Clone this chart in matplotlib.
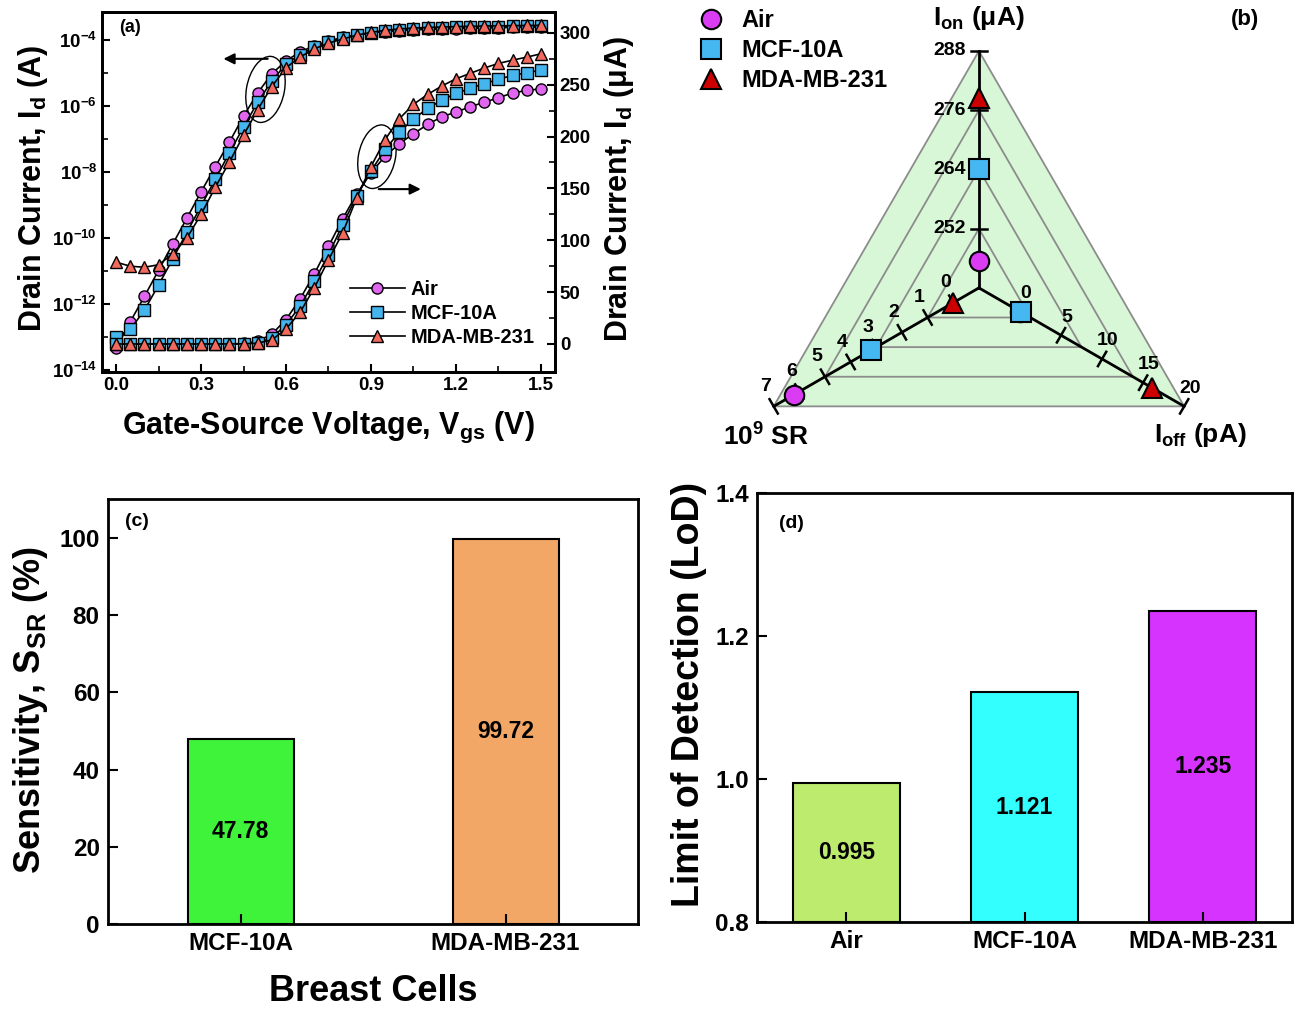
import matplotlib
matplotlib.use('Agg')
import matplotlib.pyplot as plt
import numpy as np
from matplotlib.patches import Ellipse, Polygon
from matplotlib.lines import Line2D
from matplotlib.ticker import FixedLocator, NullFormatter, FormatStrFormatter

plt.rcParams['font.family'] = ['Liberation Sans', 'DejaVu Sans']
plt.rcParams['font.weight'] = 'bold'
plt.rcParams['mathtext.fontset'] = 'custom'
plt.rcParams['mathtext.rm'] = 'Liberation Sans:bold'
plt.rcParams['mathtext.it'] = 'Liberation Sans:bold'
plt.rcParams['mathtext.bf'] = 'Liberation Sans:bold'
plt.rcParams['axes.linewidth'] = 2

# ---- (a) transfer curves, drain current in A ----
vgs = [0.00, 0.05, 0.10, 0.15, 0.20, 0.25, 0.30, 0.35, 0.40, 0.45, 0.50,
       0.55, 0.60, 0.65, 0.70, 0.75, 0.80, 0.85, 0.90, 0.95, 1.00,
       1.05, 1.10, 1.15, 1.20, 1.25, 1.30, 1.35, 1.40, 1.45, 1.50]
id_air = [4.5e-14, 2.9e-13, 1.7e-12, 1.05e-11, 6.6e-11, 4.0e-10, 2.5e-9, 1.45e-8,
          8.1e-8, 4.9e-7, 2.5e-6, 9.5e-6, 23.5e-6, 43.5e-6, 67.6e-6, 94e-6,
          120.6e-6, 144.7e-6, 165e-6, 181e-6, 193e-6, 202.6e-6, 211.6e-6, 219e-6,
          223.5e-6, 228.6e-6, 233e-6, 237.3e-6, 242e-6, 244.4e-6, 246e-6]
id_mcf = [1.0e-13, 1.7e-13, 6.5e-13, 3.8e-12, 2.3e-11, 1.5e-10, 9.3e-10, 6.0e-9,
          3.8e-8, 2.3e-7, 1.3e-6, 5.8e-6, 18.6e-6, 36.4e-6, 60.5e-6, 86e-6,
          115e-6, 142.6e-6, 166.6e-6, 187.5e-6, 204e-6, 217e-6, 227e-6, 235e-6,
          241.5e-6, 246.3e-6, 251e-6, 255e-6, 259e-6, 261.4e-6, 264e-6]
id_mda = [1.85e-11, 1.4e-11, 1.3e-11, 1.55e-11, 3.3e-11, 1.0e-10, 5.2e-10, 3.4e-9,
          2.0e-8, 1.3e-7, 7.8e-7, 3.9e-6, 14.5e-6, 30.6e-6, 54e-6, 81e-6,
          107e-6, 141e-6, 171e-6, 197e-6, 217e-6, 231e-6, 240.5e-6, 248.6e-6,
          255.6e-6, 260.8e-6, 266e-6, 270.4e-6, 273.6e-6, 276.5e-6, 279.7e-6]
series_names = ['Air', 'MCF-10A', 'MDA-MB-231']

# ---- (b) radar values ----
radar_ion = [245.5, 264.0, 278.5]     # uA
radar_sr = [6.2, 3.2, 0.02]           # 1e9 SR
radar_ioff = [0.045, 0.1, 16.1]       # pA
ion_ticks = [252, 264, 276, 288]
sr_ticks = [0, 1, 2, 3, 4, 5, 6, 7]
ioff_ticks = [0, 5, 10, 15, 20]

# ---- (c) sensitivity ----
cells_c = ['MCF-10A', 'MDA-MB-231']
sensitivity = [47.78, 99.72]

# ---- (d) limit of detection ----
cells_d = ['Air', 'MCF-10A', 'MDA-MB-231']
lod = [0.995, 1.121, 1.235]

fig = plt.figure(figsize=(12.97, 10.10), dpi=100)

# ================= (a) =================
ax = fig.add_axes([0.0786, 0.6317, 0.3493, 0.3564])
ax2 = ax.twinx()
mk_a = [dict(marker='o', mfc='#E066F0'), dict(marker='s', mfc='#45B5EE'),
        dict(marker='^', mfc='#F26A5E')]
curves = [id_air, id_mcf, id_mda]
for cur, mk, nm in zip(curves, mk_a, series_names):
    ax.semilogy(vgs, cur, color='k', lw=1.2, ms=8, mec='k', mew=1, **mk)
    ax2.plot(vgs, np.array(cur) * 1e6, color='k', lw=1.2, ms=8, mec='k', mew=1,
             label=nm, **mk)

ax.set_xlim(-0.05, 1.55)
ax.set_ylim(10 ** -14.06, 10 ** -3.15)
ax2.set_ylim(-27, 320)
ax.set_xticks([0.0, 0.3, 0.6, 0.9, 1.2, 1.5])
ax.xaxis.set_minor_locator(FixedLocator([0.15, 0.45, 0.75, 1.05, 1.35]))
ax.xaxis.set_major_formatter(FormatStrFormatter('%.1f'))
ax.yaxis.set_major_locator(FixedLocator([1e-14, 1e-12, 1e-10, 1e-8, 1e-6, 1e-4]))
ax.yaxis.set_minor_locator(FixedLocator([1e-13, 1e-11, 1e-9, 1e-7, 1e-5, 1e-3]))
ax.yaxis.set_minor_formatter(NullFormatter())
ax2.set_yticks([0, 50, 100, 150, 200, 250, 300])
ax2.yaxis.set_minor_locator(FixedLocator([25, 75, 125, 175, 225, 275]))
for a in (ax, ax2):
    a.tick_params(which='major', direction='in', length=6, width=1.5, labelsize=13.5)
    a.tick_params(which='minor', direction='in', length=4, width=1.2)
ax.tick_params(axis='y', which='both', right=False)
ax.tick_params(axis='x', which='both', top=False)

ax.set_xlabel('Gate-Source Voltage, V$_{gs}$ (V)', fontsize=22, fontweight='bold')
ax.set_ylabel('Drain Current, I$_{d}$ (A)', fontsize=22, fontweight='bold')
ax2.set_ylabel('Drain Current, I$_{d}$ (μA)', fontsize=22, fontweight='bold')
ax.xaxis.set_label_coords(0.5, -0.106)
ax.yaxis.set_label_coords(-0.115, 0.511)
ax2.yaxis.set_label_coords(1.103, 0.508)
ax.text(0.062, 0.956, '(a)', transform=ax.transAxes, fontsize=13,
        fontweight='bold', ha='center', va='center')

ax2.add_patch(Ellipse((0.361, 0.785), 0.084, 0.185, angle=-8, fill=False,
                      ec='k', lw=1, transform=ax2.transAxes))
ax2.add_patch(Ellipse((0.607, 0.598), 0.082, 0.178, angle=-8, fill=False,
                      ec='k', lw=1, transform=ax2.transAxes))
ax2.annotate('', xy=(0.262, 0.87), xytext=(0.372, 0.87), xycoords='axes fraction',
             arrowprops=dict(arrowstyle='-|>', color='k', lw=1.5, mutation_scale=16))
ax2.annotate('', xy=(0.710, 0.508), xytext=(0.605, 0.508), xycoords='axes fraction',
             arrowprops=dict(arrowstyle='-|>', color='k', lw=1.5, mutation_scale=16))
ax2.legend(loc='lower right', bbox_to_anchor=(0.995, 0.02), frameon=False,
           fontsize=14.5, handlelength=2.7, handletextpad=0.3, labelspacing=0.25)

# ================= (b) =================
axb = fig.add_axes([0.532, 0.5545, 0.468, 0.4455])
axb.set_xlim(-1.219, 1.342)
axb.set_ylim(-0.684, 1.215)
axb.axis('off')

axes_def = [  # angle, lo, hi
    (90, 240.0, 288.0),
    (210, -1.0, 7.0),
    (330, -5.0, 20.0),
]


def to_xy(val, k):
    ang, lo, hi = axes_def[k]
    f = (val - lo) / (hi - lo)
    a = np.deg2rad(ang)
    return f * np.cos(a), f * np.sin(a)


def tri(f):
    return [(f * np.cos(np.deg2rad(a)), f * np.sin(np.deg2rad(a))) for a, _, _ in axes_def]


axb.add_patch(Polygon(tri(1.0), closed=True, fc='#D8F7D6', ec='#8C8C8C', lw=1.3, zorder=1))
for lev in (0.25, 0.5, 0.75):
    axb.add_patch(Polygon(tri(lev), closed=True, fill=False, ec='#8C8C8C', lw=1.3, zorder=2))

for k, (ang, lo, hi) in enumerate(axes_def):
    ex, ey = to_xy(hi, k)
    axb.plot([0, ex], [0, ey], color='k', lw=2, zorder=3)

hl = 0.035
tick_sets = [ion_ticks, sr_ticks, ioff_ticks]
label_off = [(-0.055, 0.0), (-0.034, 0.084), (0.025, 0.077)]
for k, ticks in enumerate(tick_sets):
    ang = np.deg2rad(axes_def[k][0])
    nx, ny = -np.sin(ang), np.cos(ang)
    for t in ticks:
        px, py = to_xy(t, k)
        axb.plot([px - hl * nx, px + hl * nx], [py - hl * ny, py + hl * ny],
                 color='k', lw=1.8, zorder=3)
        dx, dy = label_off[k]
        axb.text(px + dx, py + dy, str(t), fontsize=14, fontweight='bold',
                 ha='right' if k == 0 else 'center', va='center', zorder=4)

mk_b = [dict(marker='o', mfc='#D93CF2'), dict(marker='s', mfc='#45B8F2'),
        dict(marker='^', mfc='#CC0000')]
for i in range(3):
    for k, vals in enumerate([radar_ion, radar_sr, radar_ioff]):
        px, py = to_xy(vals[i], k)
        axb.plot(px, py, ls='none', ms=14 if i != 2 else 15, mec='k', mew=1.5,
                 zorder=5, **mk_b[i])

handles = [Line2D([], [], ls='none', ms=14, mec='k', mew=1.5, **mk_b[i]) for i in range(3)]
axb.legend(handles, series_names, loc='upper left', bbox_to_anchor=(-0.028, 1.012),
           frameon=False, fontsize=17, handletextpad=0.3, labelspacing=0.3,
           borderaxespad=0.2)

axb.text(0.0, 1.139, 'I$_{on}$ (μA)', fontsize=19, fontweight='bold', ha='center', va='center')
axb.text(-0.899, -0.629, '10$^{9}$ SR', fontsize=19, fontweight='bold', ha='center', va='center')
axb.text(0.932, -0.62, 'I$_{off}$ (pA)', fontsize=19, fontweight='bold', ha='center', va='center')
axb.text(1.122, 1.131, '(b)', fontsize=16, fontweight='bold', ha='center', va='center')

# ================= (c) =================
axc = fig.add_axes([0.0833, 0.0851, 0.4086, 0.4208])
pos_c = np.arange(1, len(cells_c) + 1)
axc.bar(pos_c, sensitivity, width=0.4, color=['#3FF23A', '#F2A766'],
        edgecolor='k', lw=1.5)
for p, v in zip(pos_c, sensitivity):
    axc.text(p, v / 2, f'{v:.2f}', ha='center', va='center', fontsize=16.5, fontweight='bold')
axc.set_xlim(0.5, 2.5)
axc.set_ylim(0, 110)
axc.set_xticks(pos_c)
axc.set_xticklabels(cells_c)
axc.set_yticks([0, 20, 40, 60, 80, 100])
axc.tick_params(direction='in', length=7, width=1.5, labelsize=17.5, pad=6)
axc.set_xlabel('Breast Cells', fontsize=26, fontweight='bold')
axc.set_ylabel('Sensitivity, S$_{SR}$ (%)', fontsize=26, fontweight='bold')
axc.xaxis.set_label_coords(0.5, -0.118)
axc.yaxis.set_label_coords(-0.109, 0.504)
axc.text(0.055, 0.946, '(c)', transform=axc.transAxes, fontsize=14,
         fontweight='bold', ha='center', va='center')

# ================= (d) =================
axd = fig.add_axes([0.5837, 0.0871, 0.4125, 0.4248])
pos_d = np.arange(1, len(cells_d) + 1)
axd.bar(pos_d, np.array(lod) - 0.8, bottom=0.8, width=0.6,
        color=['#BDEB6E', '#33FFFF', '#D633FF'], edgecolor='k', lw=1.5)
for p, v in zip(pos_d, lod):
    axd.text(p, (0.8 + v) / 2, f'{v:.3f}', ha='center', va='center', fontsize=16.5,
             fontweight='bold')
axd.set_xlim(0.5, 3.5)
axd.set_ylim(0.8, 1.4)
axd.set_xticks(pos_d)
axd.set_xticklabels(cells_d)
axd.set_yticks([0.8, 1.0, 1.2, 1.4])
axd.yaxis.set_major_formatter(FormatStrFormatter('%.1f'))
axd.tick_params(direction='in', length=7, width=1.5, labelsize=17.5, pad=6)
axd.set_ylabel('Limit of Detection (LoD)', fontsize=27, fontweight='bold')
axd.yaxis.set_label_coords(-0.093, 0.53)
axd.text(0.064, 0.93, '(d)', transform=axd.transAxes, fontsize=14,
         fontweight='bold', ha='center', va='center')

fig.savefig('out.png', dpi=100)
